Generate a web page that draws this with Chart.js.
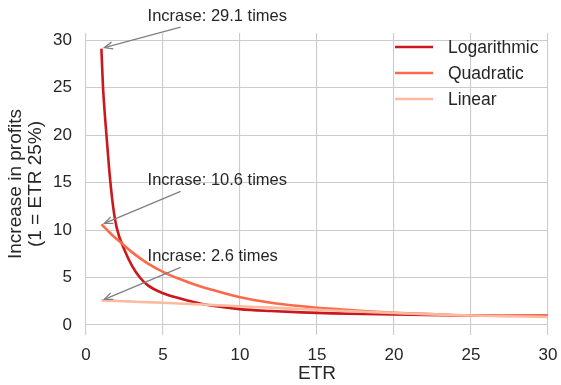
<!DOCTYPE html>
<html>
<head>
<meta charset="utf-8">
<script src="https://cdn.jsdelivr.net/npm/chart.js@4"></script>
<style>
  html, body { margin: 0; padding: 0; background: #fff; }
</style>
</head>
<body>
<canvas id="myChart" width="561" height="385"></canvas>
<script>
// values
var etr = [1, 1.1, 1.25, 1.5, 1.75, 2, 2.5, 3, 3.5, 4, 5, 6, 7, 8, 10, 12, 14, 16, 18, 20, 22, 25, 27, 30];
var logarithmic = [29.1, 25.2, 21.6, 16.5, 12.6, 10.2, 7.9, 6.2, 5.0, 4.2, 3.35, 2.85, 2.42, 2.08, 1.67, 1.47, 1.33, 1.23, 1.16, 1.11, 1.07, 1.0, 0.98, 0.97];
var quadratic = [10.6, 10.45, 10.2, 9.8, 9.4, 9.05, 8.35, 7.65, 7.05, 6.5, 5.6, 4.9, 4.3, 3.8, 2.92, 2.35, 1.98, 1.7, 1.47, 1.3, 1.18, 1.0, 1.0, 1.02];
var linear = [2.6, 2.6, 2.58, 2.57, 2.55, 2.53, 2.5, 2.47, 2.43, 2.4, 2.34, 2.27, 2.2, 2.12, 1.97, 1.83, 1.68, 1.53, 1.4, 1.27, 1.15, 1.0, 0.94, 0.85];

var seriesNames = ['Logarithmic', 'Quadratic', 'Linear'];
var seriesColors = ['#cb181d', '#fb6a4a', '#fcbba1'];

var xTicks = [0, 5, 10, 15, 20, 25, 30];
var yTicks = [0, 5, 10, 15, 20, 25, 30];

// annotations: arrow points at (annotX, annotY), text starts at (textX, textY)
var annotX = [1, 1, 1];
var annotY = [29.1, 10.6, 2.6];
var annotText = ['Incrase: 29.1 times', 'Incrase: 10.6 times', 'Incrase: 2.6 times'];
var textX = [4, 4, 4];
var textY = [32.0, 14.7, 6.7];

var font = "'Liberation Sans', Arial, sans-serif";
var ink = '#262626';

function pts(vals) {
    return etr.map((x, k) => ({ x: x, y: vals[k] }));
}

var allSeries = [logarithmic, quadratic, linear];
var datasets = allSeries.map((vals, k) => ({
    label: seriesNames[k],
    data: pts(vals),
    borderColor: seriesColors[k],
    backgroundColor: seriesColors[k],
    borderWidth: 2.6,
    pointRadius: 0,
    cubicInterpolationMode: 'monotone',
    order: 3 - k
}));

var legendPlugin = {
    id: 'myLegend',
    afterDraw(chart) {
        var ctx = chart.ctx;
        ctx.save();
        ctx.font = '17.5px ' + font;
        ctx.textBaseline = 'middle';
        for (var k = 0; k < seriesNames.length; k++) {
            var y = 47 + k * 26;
            ctx.strokeStyle = seriesColors[k];
            ctx.lineWidth = 2.6;
            ctx.beginPath();
            ctx.moveTo(395, y);
            ctx.lineTo(433, y);
            ctx.stroke();
            ctx.fillStyle = ink;
            ctx.fillText(seriesNames[k], 448, y + 1);
        }
        ctx.restore();
    }
};

var annotPlugin = {
    id: 'annots',
    afterDraw(chart) {
        var ctx = chart.ctx;
        var xs = chart.scales.x, ys = chart.scales.y;
        ctx.save();
        ctx.font = '16.5px ' + font;
        ctx.textBaseline = 'alphabetic';
        for (var k = 0; k < annotText.length; k++) {
            var tx = xs.getPixelForValue(textX[k]);
            var ty = ys.getPixelForValue(textY[k]);
            ctx.fillStyle = ink;
            ctx.fillText(annotText[k], tx, ty);

            var px = xs.getPixelForValue(annotX[k]) + 3;
            var py = ys.getPixelForValue(annotY[k]) - 1;
            var sx = tx + 33, sy = ty + 6;
            ctx.strokeStyle = '#808080';
            ctx.lineWidth = 1.3;
            ctx.beginPath();
            ctx.moveTo(sx, sy);
            ctx.lineTo(px, py);
            ctx.stroke();
            var a = Math.atan2(py - sy, px - sx);
            var hl = 9, spread = 0.4;
            ctx.beginPath();
            ctx.moveTo(px - hl * Math.cos(a - spread), py - hl * Math.sin(a - spread));
            ctx.lineTo(px, py);
            ctx.lineTo(px - hl * Math.cos(a + spread), py - hl * Math.sin(a + spread));
            ctx.stroke();
        }
        ctx.restore();
    }
};

var ctx = document.getElementById('myChart').getContext('2d');
var myChart = new Chart(ctx, {
    type: 'line',
    data: { datasets: datasets },
    plugins: [legendPlugin, annotPlugin],
    options: {
        responsive: false,
        animation: false,
        layout: { padding: { top: 33, right: 13, left: 0, bottom: 0 } },
        plugins: {
            legend: { display: false },
            tooltip: { enabled: false }
        },
        scales: {
            x: {
                type: 'linear',
                min: 0,
                max: 30,
                afterBuildTicks: (s) => { s.ticks = xTicks.map(v => ({ value: v })); },
                afterFit: (s) => { s.height = 50; s.paddingRight = 0; s.paddingLeft = 0; },
                ticks: { font: { family: font, size: 17 }, color: ink, padding: 10 },
                grid: { color: '#cccccc', lineWidth: 1.1, drawTicks: false },
                border: { display: false },
                title: {
                    display: true, text: 'ETR', color: ink,
                    font: { family: font, size: 19, lineHeight: 1.1 },
                    padding: { top: 0, bottom: 0.5 }
                }
            },
            y: {
                type: 'linear',
                min: -1.05,
                max: 30.75,
                afterBuildTicks: (s) => { s.ticks = yTicks.map(v => ({ value: v })); },
                afterFit: (s) => { s.width = 86; s.paddingTop = 0; s.paddingBottom = 0; },
                ticks: { font: { family: font, size: 17 }, color: ink, padding: 14 },
                grid: { color: '#cccccc', lineWidth: 1.1, drawTicks: false },
                border: { display: false },
                title: {
                    display: true, text: ['Increase in profits', '(1 = ETR 25%)'], color: ink,
                    font: { family: font, size: 19, lineHeight: 1.02 },
                    padding: { top: 6.5, bottom: 0 }
                }
            }
        }
    }
});
</script>
</body>
</html>
